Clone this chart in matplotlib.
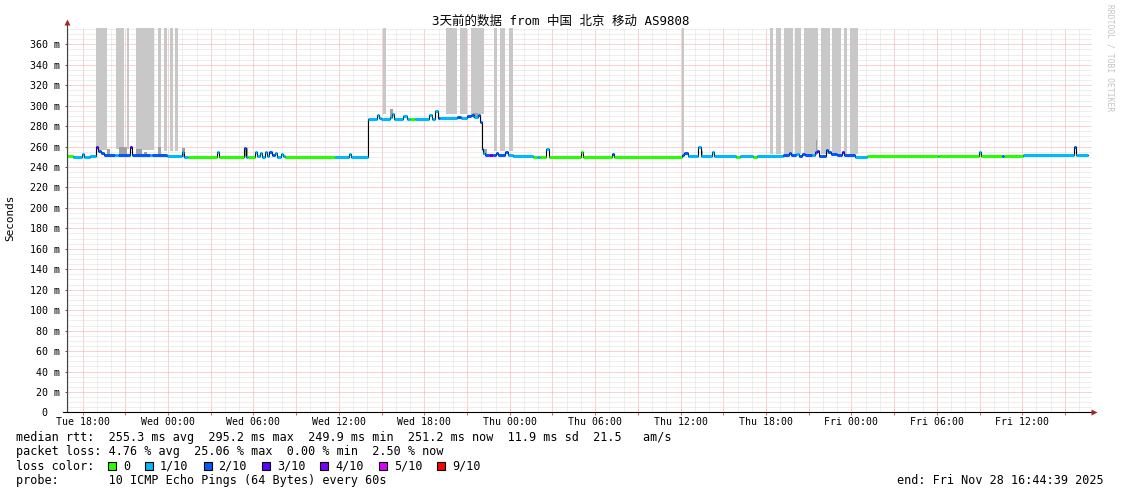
import numpy as np
import matplotlib
matplotlib.use("Agg")
import matplotlib.pyplot as plt
from matplotlib.patches import Rectangle

plt.rcParams['font.family'] = ['DejaVu Sans Mono', 'Noto Sans CJK SC']

# hours counted from Tue 00:00
t_first = 16.9
t_last = 88.9
line_end = 88.6

# median rtt steps: start hour, value (ms), loss level index
med_t = [16.90, 17.32, 17.95, 18.10, 18.50, 18.93, 19.10, 19.30, 19.50, 20.30,
         20.50, 21.30, 21.45, 22.70, 22.90, 23.95, 25.00, 25.15, 25.40, 27.45,
         27.60, 29.30, 29.45, 29.60, 30.10, 30.25, 30.45, 30.60, 30.80, 30.95,
         31.10, 31.30, 31.50, 31.65, 31.90, 32.05, 32.21, 35.72, 36.70, 36.85,
         38.04, 38.65, 38.80, 38.95, 39.60, 39.73, 39.85, 40.50, 40.78, 41.00,
         41.35, 42.33, 42.54, 42.75, 42.95, 43.10, 44.30, 44.60, 45.00, 45.28,
         45.50, 45.77, 45.91, 46.05, 46.15, 46.25, 46.55, 46.80, 47.05, 47.20,
         47.70, 47.85, 48.23, 49.63, 49.90, 50.10, 50.55, 50.75, 53.00, 53.15,
         55.18, 55.30, 60.08, 60.25, 60.52, 61.25, 61.40, 62.22, 62.35, 63.89,
         64.17, 65.09, 65.37, 67.19, 67.60, 67.75, 68.10, 68.30, 68.55, 68.75,
         69.20, 69.45, 69.60, 69.70, 70.20, 70.35, 70.55, 71.00, 71.35, 71.45,
         72.25, 73.09, 78.05, 78.15, 80.95, 81.10, 82.60, 82.75, 84.03, 87.65,
         87.80]
med_v = [251, 250, 253, 250, 251, 260, 256, 254, 252, 252,
         252, 260, 252, 252, 252, 251, 255, 250, 250, 255,
         250, 259, 250, 250, 255, 251, 254, 250, 255, 251,
         255, 252, 254, 250, 253, 251, 250, 250, 253, 250,
         287, 291, 288, 287, 289, 292, 287, 290, 287, 287,
         287, 291, 287, 295, 288, 288, 289, 288, 290, 291,
         289, 291, 284, 258, 254, 252, 252, 252, 254, 252,
         255, 252, 251, 250, 250, 250, 258, 250, 255, 250,
         253, 250, 252, 254, 251, 260, 251, 255, 251, 250,
         251, 250, 251, 252, 254, 252, 253, 251, 253, 252,
         252, 255, 256, 251, 257, 255, 253, 252, 255, 252,
         250, 250.5, 251, 250.5, 255, 250.5, 251, 250.5, 252, 260,
         252]
med_loss = [0, 1, 1, 1, 1, 3, 2, 2, 2, 1,
            2, 3, 2, 1, 2, 1, 1, 1, 0, 1,
            0, 2, 1, 0, 1, 1, 1, 1, 1, 1,
            2, 2, 1, 1, 1, 1, 0, 1, 1, 1,
            1, 1, 1, 1, 1, 1, 1, 1, 1, 0,
            1, 1, 1, 1, 2, 1, 2, 1, 2, 2,
            1, 2, 2, 2, 1, 2, 3, 2, 2, 2,
            2, 1, 1, 0, 1, 0, 1, 0, 0, 0,
            2, 0, 2, 2, 1, 1, 1, 1, 1, 0,
            1, 0, 1, 2, 2, 2, 1, 2, 2, 2,
            1, 2, 3, 2, 2, 2, 2, 2, 3, 2,
            1, 0, 1, 0, 1, 0, 2, 0, 1, 2,
            1]

loss_colors = ['#26ff00', '#00b8ff', '#0059ff', '#5e00ff', '#7e00ff', '#dd00ff', '#ff0000']
loss_labels = ['0', '1/10', '2/10', '3/10', '4/10', '5/10', '9/10']

# smoke running off the top of the graph: start, end, low
smoke_t0 = [18.93, 20.34, 21.09, 21.74, 23.27, 23.69, 24.13, 24.48, 39.07, 43.52,
            44.50, 45.28, 46.89, 47.31, 47.95, 60.08, 66.28, 66.70, 67.26, 68.01,
            68.67, 69.84, 70.63, 71.48, 71.92]
smoke_t1 = [19.71, 20.90, 21.27, 23.03, 23.50, 23.92, 24.34, 24.69, 39.28, 44.31,
            45.02, 46.21, 47.08, 47.66, 48.23, 60.27, 66.47, 67.03, 67.87, 68.43,
            69.65, 70.49, 71.26, 71.66, 72.46]
smoke_lo = [257, 258, 258, 257, 258, 256, 256, 256, 292, 292,
            292, 292, 256, 256, 256, 253, 253, 253, 253, 253,
            253, 253, 253, 253, 253]

# darker short smoke near the median
dsmoke_t0 = [19.71, 20.55, 21.74, 22.30, 23.27, 25.00, 29.33, 39.60, 45.40, 46.15, 61.45, 69.50]
dsmoke_t1 = [19.92, 21.09, 22.17, 22.50, 23.50, 25.20, 29.60, 39.80, 45.80, 46.40, 61.60, 69.60]
dsmoke_lo = [251, 252, 252, 252, 252, 250, 250, 288, 288, 252, 250, 252]
dsmoke_hi = [258, 260, 258, 255, 260, 259, 259, 297, 293, 258, 256, 266]

xtick_hours = [18, 24, 30, 36, 42, 48, 54, 60, 66, 72, 78, 84]
xtick_labels = ['Tue 18:00', 'Wed 00:00', 'Wed 06:00', 'Wed 12:00', 'Wed 18:00',
                'Thu 00:00', 'Thu 06:00', 'Thu 12:00', 'Thu 18:00', 'Fri 00:00',
                'Fri 06:00', 'Fri 12:00']

title = "3天前的数据 from 中国 北京 移动 AS9808"
rtt_line = "median rtt:  255.3 ms avg  295.2 ms max  249.9 ms min  251.2 ms now  11.9 ms sd  21.5   am/s"
loss_line = "packet loss: 4.76 % avg  25.06 % max  0.00 % min  2.50 % now"
probe_line = "probe:       10 ICMP Echo Pings (64 Bytes) every 60s"
end_line = "end: Fri Nov 28 16:44:39 2025"

W, H = 1121, 494
fig = plt.figure(figsize=(W / 100, H / 100), dpi=100)
fig.patch.set_facecolor('white')
ax = fig.add_axes([67 / W, (H - 412.4) / H, (1092 - 67) / W, (412.4 - 28) / H])
ax.set_xlim(t_first, t_last)
ax.set_ylim(0, 376)

# smoke, drawn over the grid
ax.bar(smoke_t0, [400 - lo for lo in smoke_lo], bottom=smoke_lo,
       width=np.array(smoke_t1) - np.array(smoke_t0), align='edge',
       color='#c8c8c8', lw=0, zorder=2)
ax.bar(dsmoke_t0, np.array(dsmoke_hi) - np.array(dsmoke_lo), bottom=dsmoke_lo,
       width=np.array(dsmoke_t1) - np.array(dsmoke_t0), align='edge',
       color='#a0a0a0', lw=0, zorder=2.2)

# grid
ax.set_xticks(np.arange(18, 88.5, 3))
ax.set_xticks(np.arange(17, 89, 1), minor=True)
ax.set_yticks(np.arange(0, 361, 20))
ax.set_yticks(np.arange(0, 376, 5), minor=True)
ax.set_axisbelow(True)
ax.grid(which='minor', color='#dedede', ls=(0, (1, 1)), lw=0.72)
ax.grid(which='major', color='#f4a8a8', ls=(0, (1, 1)), lw=0.72)

# median line: thin black steps under coloured segments
ax.step(med_t + [line_end], med_v + [med_v[-1]], where='post', color='black',
        lw=0.8, zorder=3)
seg_end = med_t[1:] + [line_end]
ax.hlines(med_v, med_t, seg_end, colors=[loss_colors[k] for k in med_loss],
          lw=2.2, zorder=4, capstyle='butt')

# axes styling
for s in ax.spines.values():
    s.set_visible(False)
ax.plot([0, 0], [0, 1.016], color='#404040', lw=0.8, transform=ax.transAxes,
        clip_on=False, zorder=5)
ax.plot([-0.004, 1.002], [0, 0], color='black', lw=0.8, transform=ax.transAxes,
        clip_on=False, zorder=5)
ax.plot([0], [1.016], marker='^', ms=4, color='#a02828', mec='none',
        transform=ax.transAxes, clip_on=False, zorder=6)
ax.plot([1.002], [0], marker='>', ms=4, color='#a02828', mec='none',
        transform=ax.transAxes, clip_on=False, zorder=6)

labels_x = []
for h in np.arange(18, 88.5, 3):
    labels_x.append(xtick_labels[xtick_hours.index(h)] if h in xtick_hours else '')
ax.set_xticklabels(labels_x)
ax.set_yticklabels(['0  '] + [f'{v} m' for v in range(20, 361, 20)])
ax.tick_params(axis='x', which='major', length=2.2, width=0.72, color='#e06060',
               pad=1.2, labelsize=7.1)
ax.tick_params(axis='x', which='minor', length=0)
ax.tick_params(axis='y', which='major', length=1.5, width=0.72, color='#606060',
               pad=3.5, labelsize=7.2)
ax.tick_params(axis='y', which='minor', length=0)

fig.text(560.5 / W, 1 - 21 / H, title, ha='center', va='center', fontsize=9)
fig.text(10.7 / W, 1 - 218 / H, 'Seconds', rotation=90, ha='center', va='center',
         fontsize=7.9)
fig.text(1110 / W, 1 - 4 / H, 'RRDTOOL / TOBI OETIKER', rotation=270, ha='center',
         va='top', fontsize=5.8, color='#c4c4c4')

fs = 8.5
cw = 7.1
fig.text(16 / W, 1 - 437.5 / H, rtt_line, ha='left', va='center', fontsize=fs)
fig.text(16 / W, 1 - 451.5 / H, loss_line, ha='left', va='center', fontsize=fs)
fig.text(16 / W, 1 - 466 / H, 'loss color:', ha='left', va='center', fontsize=fs)
fig.text(16 / W, 1 - 480 / H, probe_line, ha='left', va='center', fontsize=fs)
fig.text(1104 / W, 1 - 480 / H, end_line, ha='right', va='center', fontsize=fs)

x = 108
for col, lab in zip(loss_colors, loss_labels):
    fig.patches.append(Rectangle((x / W, 1 - 470 / H), 8 / W, 8 / H,
                                 facecolor=col, edgecolor='black', lw=0.8,
                                 transform=fig.transFigure, figure=fig))
    fig.text((x + 15) / W, 1 - 466 / H, lab, ha='left', va='center', fontsize=fs)
    x = x + 15 + len(lab) * cw + 15

fig.savefig('out.png', dpi=100)
